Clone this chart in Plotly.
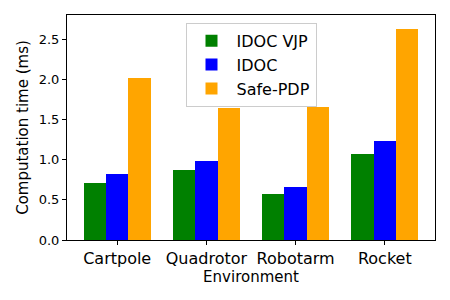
import plotly.graph_objects as go

categories = ["Cartpole", "Quadrotor", "Robotarm", "Rocket"]
idoc_vjp = [0.71, 0.87, 0.57, 1.07]
idoc = [0.82, 0.98, 0.66, 1.23]
safe_pdp = [2.02, 1.64, 1.66, 2.63]
series = [("IDOC VJP", idoc_vjp, "green"), ("IDOC", idoc, "blue"), ("Safe-PDP", safe_pdp, "orange")]
offsets = [-0.25, 0.0, 0.25]

fig = go.Figure()
xs = list(range(len(categories)))
for (name, vals, color), off in zip(series, offsets):
    fig.add_trace(go.Bar(x=[x + off for x in xs], y=vals, width=0.25, name=name,
                         marker=dict(color=color, line=dict(width=0))))

font = "DejaVu Sans, sans-serif"
fig.update_layout(
    width=442, height=292,
    margin=dict(l=59, r=15, t=7, b=60),
    plot_bgcolor="white", paper_bgcolor="white",
    font=dict(family=font, color="black"),
    showlegend=True,
    legend=dict(x=0.5, xanchor="center", y=0.965, yanchor="top",
                bordercolor="#cccccc", borderwidth=1, bgcolor="rgba(255,255,255,0.8)",
                font=dict(size=16, family=font), itemwidth=40, tracegroupgap=0),
    xaxis=dict(range=[-0.5625, 3.5625], tickmode="array", tickvals=xs, ticktext=categories,
               showgrid=False, zeroline=False, showline=True, linecolor="black", linewidth=1,
               mirror=True, ticks="outside", ticklen=4, tickcolor="black",
               tickfont=dict(size=16), title=dict(text="Environment", font=dict(size=15), standoff=2)),
    yaxis=dict(range=[0, 2.8], tickmode="array", tickvals=[0, 0.5, 1.0, 1.5, 2.0, 2.5],
               ticktext=["0.0", "0.5", "1.0", "1.5", "2.0", "2.5"],
               showgrid=False, zeroline=False, showline=True, linecolor="black", linewidth=1,
               mirror=True, ticks="outside", ticklen=4, tickcolor="black",
               tickfont=dict(size=13), title=dict(text="Computation time (ms)", font=dict(size=15), standoff=6)),
    bargap=0,
)
fig.write_html("out.html")
